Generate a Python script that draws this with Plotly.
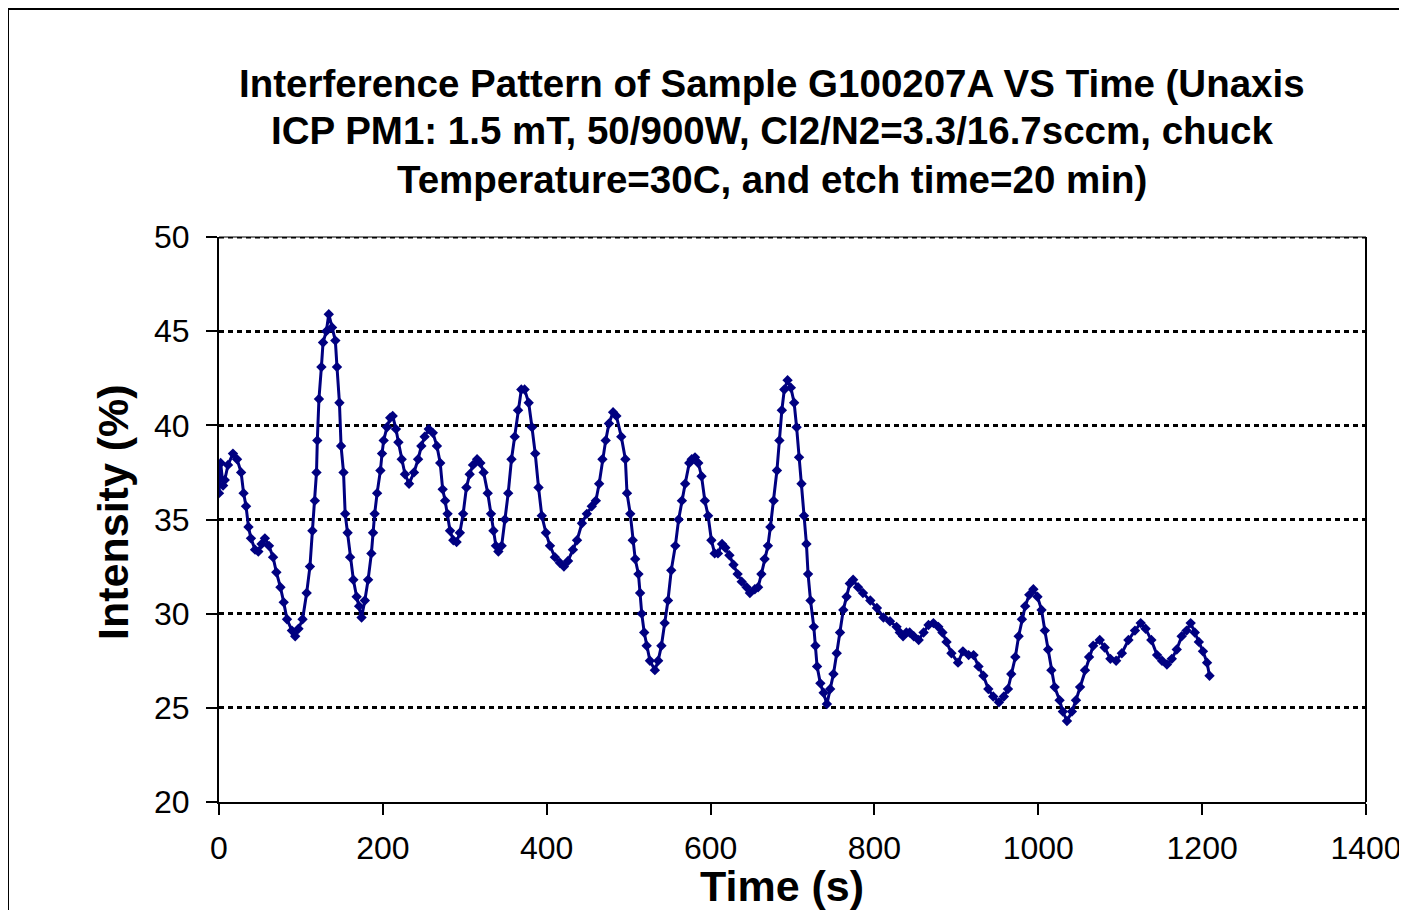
import plotly.graph_objects as go

time_s = [0, 2, 5, 7, 11, 17, 22, 27, 30, 33, 36, 39, 44, 48, 52, 56, 61, 66, 70, 75,
          79, 83, 89, 93, 97, 102, 107, 111, 114, 117, 119, 120, 122, 125, 127, 131, 134, 138, 142, 144,
          147, 149, 152, 154, 157, 160, 164, 168, 171, 174, 178, 182, 186, 188, 190, 193, 197, 199, 201, 205,
          209, 212, 216, 219, 223, 227, 232, 238, 243, 247, 251, 256, 261, 266, 270, 273, 276, 279, 282, 286,
          290, 294, 298, 302, 306, 310, 315, 319, 323, 328, 332, 335, 338, 341, 345, 349, 353, 357, 361, 365,
          369, 373, 378, 382, 386, 390, 394, 399, 404, 410, 416, 421, 426, 432, 437, 443, 449, 455, 460, 464,
          468, 472, 476, 481, 485, 491, 496, 498, 502, 505, 508, 512, 514, 516, 519, 522, 526, 532, 536, 540,
          544, 548, 552, 557, 561, 565, 569, 574, 577, 581, 585, 589, 593, 597, 601, 605, 609, 614, 618, 623,
          628, 633, 638, 644, 648, 654, 658, 662, 666, 670, 673, 677, 681, 684, 687, 690, 694, 698, 702, 705,
          708, 711, 714, 717, 719, 722, 726, 728, 730, 734, 738, 742, 746, 750, 754, 758, 762, 766, 770, 774,
          780, 786, 795, 803, 811, 819, 827, 831, 835, 839, 843, 848, 854, 860, 866, 872, 878, 883, 888, 894,
          902, 908, 915, 921, 927, 933, 939, 945, 952, 958, 963, 967, 972, 976, 980, 984, 989, 994, 999, 1004,
          1008, 1012, 1016, 1020, 1026, 1030, 1035, 1041, 1046, 1051, 1057, 1062, 1067, 1075, 1081, 1088, 1095, 1102, 1110, 1118,
          1125, 1131, 1138, 1145, 1151, 1157, 1163, 1169, 1175, 1181, 1186, 1191, 1196, 1201, 1206, 1209]

intensity = [36.4, 38.0, 36.8, 37.1, 37.9, 38.5, 38.2, 37.5, 36.4, 35.7, 34.6, 34.0, 33.4, 33.3, 33.7, 34.0, 33.6, 33.0, 32.2, 31.4,
             30.6, 29.7, 29.1, 28.8, 29.2, 29.7, 31.1, 32.5, 34.4, 36.0, 37.5, 39.2, 41.4, 43.1, 44.4, 45.0, 45.9, 45.2, 44.5, 43.1,
             41.2, 38.9, 37.5, 35.3, 34.3, 33.0, 31.8, 30.9, 30.4, 29.8, 30.7, 31.8, 33.2, 34.3, 35.3, 36.4, 37.6, 38.5, 39.2, 39.9,
             40.4, 40.5, 39.8, 39.1, 38.2, 37.4, 36.9, 37.5, 38.2, 38.9, 39.4, 39.8, 39.6, 38.9, 38.0, 36.6, 36.0, 35.3, 34.4, 33.9,
             33.8, 34.3, 35.3, 36.7, 37.4, 37.9, 38.2, 38.0, 37.5, 36.4, 35.3, 34.4, 33.6, 33.3, 33.6, 35.0, 36.4, 38.2, 39.4, 40.8,
             41.9, 41.9, 41.2, 39.9, 38.5, 36.7, 35.2, 34.3, 33.6, 33.0, 32.7, 32.5, 32.8, 33.4, 33.9, 34.8, 35.3, 35.7, 36.0, 36.9,
             38.2, 39.2, 40.1, 40.7, 40.5, 39.4, 38.2, 36.4, 35.3, 33.9, 32.9, 32.1, 31.1, 30.0, 29.0, 28.3, 27.5, 27.0, 27.5, 28.3,
             29.5, 30.7, 32.3, 33.6, 35.0, 36.0, 36.9, 38.0, 38.2, 38.3, 38.0, 37.3, 36.0, 35.2, 33.9, 33.2, 33.2, 33.7, 33.5, 33.1,
             32.6, 32.1, 31.7, 31.4, 31.1, 31.3, 31.4, 32.1, 32.9, 33.6, 34.6, 36.0, 37.6, 39.2, 40.8, 41.9, 42.4, 42.0, 41.2, 39.9,
             38.3, 36.9, 35.2, 33.7, 32.1, 30.7, 29.3, 28.3, 27.2, 26.3, 25.8, 25.2, 26.0, 26.8, 27.9, 29.0, 30.2, 30.9, 31.6, 31.8,
             31.4, 31.1, 30.7, 30.3, 29.8, 29.6, 29.3, 29.0, 28.8, 29.0, 29.0, 28.8, 28.6, 29.0, 29.4, 29.5, 29.3, 29.0, 28.5, 27.9,
             27.4, 28.0, 27.8, 27.8, 27.2, 26.7, 26.0, 25.6, 25.3, 25.6, 26.0, 26.8, 27.7, 28.8, 29.7, 30.4, 31.0, 31.3, 30.9, 30.2,
             29.1, 28.1, 27.0, 26.1, 25.4, 24.8, 24.3, 24.8, 25.4, 26.1, 27.0, 27.7, 28.3, 28.6, 28.2, 27.6, 27.5, 27.9, 28.6, 29.1,
             29.5, 29.2, 28.6, 27.8, 27.5, 27.3, 27.6, 28.1, 28.8, 29.1, 29.5, 29.0, 28.5, 28.0, 27.4, 26.7]

x_ticks = [0, 200, 400, 600, 800, 1000, 1200, 1400]
y_ticks = [20, 25, 30, 35, 40, 45, 50]

title_lines = ["Interference Pattern of Sample G100207A VS Time (Unaxis",
               "ICP PM1: 1.5 mT, 50/900W, Cl2/N2=3.3/16.7sccm, chuck",
               "Temperature=30C, and etch time=20 min)"]

FONT = "Arial, Liberation Sans, sans-serif"
NAVY = "#000080"

fig = go.Figure()
fig.add_trace(go.Scatter(
    x=time_s, y=intensity, mode="lines+markers",
    line=dict(color=NAVY, width=3),
    marker=dict(symbol="diamond", size=8, color=NAVY),
    showlegend=False, hoverinfo="x+y"))

# page body has an 8px margin; figure coordinates are offset by it
OFF = 8
W, H = 1407 - OFF, 918 - 2 * OFF
L, R, T, B = 219 - OFF, W - (1366 - OFF), 237 - OFF, H - (802 - OFF)
pw, ph = W - L - R, H - T - B

def px_x(p):  # screen px -> paper
    return (p - OFF - L) / pw

def px_y(p):
    return (H - B - (p - OFF)) / ph

fig.update_layout(
    width=W, height=H, autosize=False,
    margin=dict(l=L, r=R, t=T, b=B, pad=0, autoexpand=False),
    paper_bgcolor="white", plot_bgcolor="white",
    font=dict(family=FONT, color="black"),
    xaxis=dict(range=[0, 1400], tickvals=x_ticks, ticks="outside", ticklen=11, tickwidth=2,
               tickcolor="black", showline=True, linecolor="black", linewidth=2,
               showgrid=False, zeroline=False, ticklabelstandoff=6, automargin=False,
               tickfont=dict(size=32, family=FONT)),
    yaxis=dict(range=[20, 50], tickvals=y_ticks, ticks="outside", ticklen=11, tickwidth=2,
               tickcolor="black", showline=True, linecolor="black", linewidth=2,
               showgrid=True, gridcolor="black", gridwidth=3, griddash="5px,4px",
               zeroline=False, ticklabelstandoff=10, automargin=False,
               tickfont=dict(size=32, family=FONT)),
)

# top gridline at 50 (dotted) with thin solid edge, right border of plot area
fig.add_shape(type="line", xref="paper", yref="y", x0=0, x1=1, y0=50, y1=50,
              line=dict(color="black", width=3, dash="5px,4px"))
fig.add_shape(type="line", xref="paper", yref="paper", x0=0, x1=1, y0=1, y1=1,
              line=dict(color="black", width=1))
fig.add_shape(type="line", xref="paper", yref="paper", x0=1, x1=1, y0=0, y1=1,
              line=dict(color="black", width=2))
# outer chart border
fig.add_shape(type="rect", xref="paper", yref="paper",
              x0=px_x(8), x1=px_x(1440), y0=px_y(950), y1=px_y(9),
              line=dict(color="black", width=2), layer="below")

for i, line in enumerate(title_lines):
    fig.add_annotation(text="<b>%s</b>" % line, xref="paper", yref="paper",
                       x=px_x(772), y=px_y(83 + 48 * i), showarrow=False,
                       xanchor="center", yanchor="middle",
                       font=dict(size=38.5, family=FONT, color="black"))

fig.add_annotation(text="<b>Time (s)</b>", xref="paper", yref="paper",
                   x=px_x(782), y=px_y(886), showarrow=False,
                   xanchor="center", yanchor="middle",
                   font=dict(size=43, family=FONT, color="black"))
fig.add_annotation(text="<b>Intensity (%)</b>", xref="paper", yref="paper",
                   x=px_x(113), y=px_y(512), showarrow=False, textangle=-90,
                   xanchor="center", yanchor="middle",
                   font=dict(size=43, family=FONT, color="black"))

fig.write_html("out.html")
